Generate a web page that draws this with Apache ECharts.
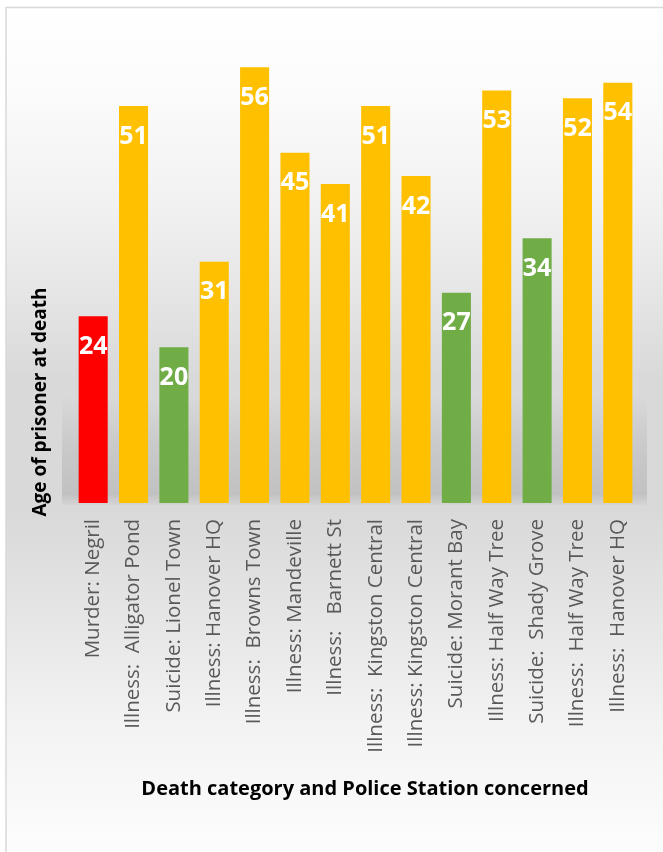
<!DOCTYPE html>
<html>
<head>
<meta charset="utf-8">
<script src="https://cdn.jsdelivr.net/npm/echarts@6/dist/echarts.min.js"></script>
<style>
  html, body { margin: 0; padding: 0; background: #ffffff; }
  #chart { width: 663px; height: 852px; }
</style>
</head>
<body>
<div id="chart"></div>
<script>
// Deaths in custody: age of each prisoner, by death category and police station
const categories = [
  "Murder: Negril",
  "Illness:  Alligator Pond",
  "Suicide: Lionel Town",
  "Illness: Hanover HQ",
  "Illness:  Browns Town",
  "Illness: Mandeville",
  "Illness:   Barnett St",
  "Illness:  Kingston Central",
  "Illness: Kingston Central",
  "Suicide: Morant Bay",
  "Illness: Half Way Tree",
  "Suicide:  Shady Grove",
  "Illness:  Half Way Tree",
  "Illness:  Hanover HQ"
];
const causes = [
  "Murder", "Illness", "Suicide", "Illness", "Illness", "Illness", "Illness",
  "Illness", "Illness", "Suicide", "Illness", "Suicide", "Illness", "Illness"
];
const ages = [24, 51, 20, 31, 56, 45, 41, 51, 42, 27, 53, 34, 52, 54];

const causeColors = { Murder: "#FF0000", Illness: "#FFC000", Suicide: "#70AD47" };
const FONT = "'Open Sans', 'Noto Sans', sans-serif";

const chart = echarts.init(document.getElementById("chart"), null, { renderer: "canvas" });

const seriesData = ages.map((v, i) => ({
  value: v,
  itemStyle: { color: causeColors[causes[i]] }
}));

chart.setOption({
  animation: false,
  backgroundColor: "#ffffff",
  graphic: [
    {
      // chart area fill: light at top and bottom, grey band in the middle
      type: "rect", z: -100, silent: true,
      shape: { x: 6, y: 7.5, width: 700, height: 900 },
      style: {
        fill: new echarts.graphic.LinearGradient(0, 0, 0, 1, [
          { offset: 0.00, color: "#ffffff" },
          { offset: 0.10, color: "#fbfbfb" },
          { offset: 0.22, color: "#f1f1f1" },
          { offset: 0.33, color: "#e4e4e4" },
          { offset: 0.41, color: "#d9d9d9" },
          { offset: 0.56, color: "#d9d9d9" },
          { offset: 0.68, color: "#e6e6e6" },
          { offset: 0.80, color: "#f3f3f3" },
          { offset: 0.94, color: "#fdfdfd" },
          { offset: 1.00, color: "#ffffff" }
        ]),
        stroke: "#d9d9d9",
        lineWidth: 1.5
      }
    },
    {
      // soft floor shadow behind the bars
      type: "rect", z: -50, silent: true,
      shape: { x: 62, y: 395, width: 585, height: 110 },
      style: {
        fill: new echarts.graphic.LinearGradient(0, 0, 0, 1, [
          { offset: 0.0, color: "rgba(0,0,0,0)" },
          { offset: 0.45, color: "rgba(0,0,0,0.07)" },
          { offset: 0.9, color: "rgba(0,0,0,0.11)" },
          { offset: 1.0, color: "rgba(0,0,0,0.02)" }
        ])
      }
    },
    {
      type: "text", z: 100, silent: true,
      x: 41, y: 402, rotation: Math.PI / 2,
      style: {
        text: "Age of prisoner at death",
        font: "bold 19px " + FONT,
        fill: "#000000",
        textAlign: "center",
        textVerticalAlign: "middle"
      }
    },
    {
      type: "text", z: 100, silent: true,
      x: 365, y: 789,
      style: {
        text: "Death category and Police Station concerned",
        font: "bold 20px " + FONT,
        fill: "#000000",
        textAlign: "center",
        textVerticalAlign: "middle"
      }
    }
  ],
  grid: { left: 73, right: 25, top: 36, bottom: 349, containLabel: false },
  xAxis: {
    type: "category",
    data: categories,
    axisLine: { show: false },
    axisTick: { show: false },
    axisLabel: {
      interval: 0,
      rotate: 90,
      margin: 16,
      color: "#595959",
      fontSize: 20.5,
      fontFamily: FONT
    }
  },
  yAxis: {
    type: "value",
    min: 0,
    max: 60,
    show: false,
    splitLine: { show: false }
  },
  series: [{
    type: "bar",
    data: seriesData,
    barCategoryGap: "28%",
    label: {
      show: true,
      position: "insideTop",
      distance: 18,
      color: "#ffffff",
      fontSize: 25,
      lineHeight: 25,
      fontWeight: "bold",
      fontFamily: FONT
    }
  }]
});
</script>
</body>
</html>
